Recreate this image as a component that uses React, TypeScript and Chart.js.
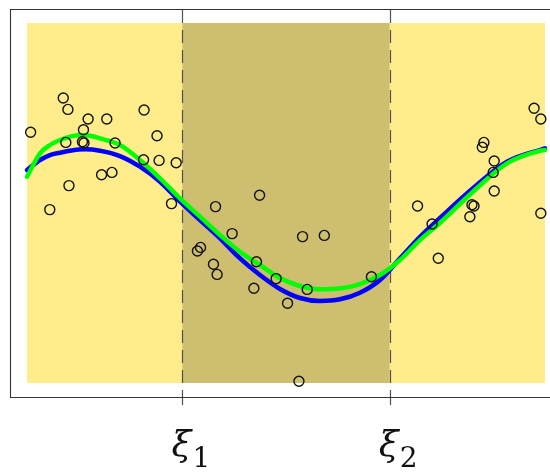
import React, { useEffect, useRef } from 'react';
import { Chart, registerables } from 'chart.js';

Chart.register(...registerables);

// Knots of the piecewise fit and their labels
const knots = [3, 7];
const knotSymbols = ['ξ', 'ξ'];
const knotSubscripts = ['1', '2'];

// Extent of the shaded data band
const xBand = [0, 10];
const yBand = [-3, 3];

// Axis limits
const xLimits = [-0.309, 10.097];
const yLimits = [-3.233, 3.217];

// Observations
const obsX = [0.07, 0.70, 0.79, 1.18, 1.54, 2.26, 1.09, 0.75, 1.07, 1.10, 1.70, 2.51, 2.25, 2.55, 2.88, 1.44, 1.64, 0.81, 0.44, 2.79, 3.29, 3.35, 3.64, 4.49, 3.96, 3.60, 3.67, 4.43, 4.81, 4.38, 5.32, 5.74, 5.41, 5.03, 6.65, 5.25, 9.79, 9.92, 8.82, 8.79, 9.02, 9.00, 9.02, 7.54, 8.59, 8.63, 8.55, 9.92, 7.82, 7.94];
const obsY = [1.18, 1.75, 1.56, 1.40, 1.40, 1.55, 1.22, 1.01, 1.02, 1.00, 1.00, 1.12, 0.72, 0.71, 0.67, 0.47, 0.51, 0.29, -0.11, -0.01, -0.80, -0.74, -0.06, 0.13, -0.51, -1.02, -1.19, -0.98, -1.26, -1.42, -0.56, -0.54, -1.44, -1.67, -1.23, -2.97, 1.58, 1.40, 1.01, 0.93, 0.70, 0.51, 0.20, -0.05, -0.03, -0.05, -0.23, -0.17, -0.35, -0.92];

// Fitted curve 1 (blue)
const blueX = [0, 0.251, 0.444, 0.637, 0.830, 1.120, 1.409, 1.795, 2.181, 2.568, 2.954, 3.340, 3.726, 4.112, 4.498, 4.884, 5.270, 5.656, 6.042, 6.429, 6.815, 7.201, 7.587, 7.973, 8.610, 9.266, 10];
const blueY = [0.55, 0.717, 0.80, 0.838, 0.872, 0.895, 0.872, 0.783, 0.605, 0.355, 0.022, -0.283, -0.588, -0.922, -1.20, -1.433, -1.583, -1.633, -1.605, -1.495, -1.283, -0.922, -0.562, -0.25, 0.245, 0.688, 0.912];

// Fitted curve 2 (green)
const greenX = [0, 0.251, 0.444, 0.637, 0.830, 1.023, 1.216, 1.409, 1.795, 2.181, 2.568, 2.954, 3.340, 3.726, 4.112, 4.498, 4.884, 5.270, 5.656, 6.042, 6.429, 6.815, 7.201, 7.587, 7.973, 8.610, 9.266, 9.903, 10];
const greenY = [0.438, 0.828, 0.967, 1.05, 1.105, 1.133, 1.122, 1.078, 0.967, 0.717, 0.412, 0.078, -0.228, -0.533, -0.812, -1.033, -1.25, -1.383, -1.438, -1.422, -1.35, -1.20, -0.95, -0.617, -0.333, 0.188, 0.662, 0.872, 0.883];

export default function App() {
  const ref = useRef<HTMLCanvasElement>(null);

  useEffect(() => {
    if (!ref.current) return;

    const decor = {
      id: 'decor',
      beforeDatasetsDraw(chart: any) {
        const { ctx, chartArea, scales } = chart;
        const x = scales.x;
        const y = scales.y;
        ctx.save();
        const bx0 = x.getPixelForValue(xBand[0]);
        const bx1 = x.getPixelForValue(xBand[1]);
        const by0 = y.getPixelForValue(yBand[1]);
        const by1 = y.getPixelForValue(yBand[0]);
        ctx.fillStyle = '#FFEC8B';
        ctx.fillRect(bx0, by0, bx1 - bx0, by1 - by0);
        const k0 = x.getPixelForValue(knots[0]);
        const k1 = x.getPixelForValue(knots[1]);
        ctx.fillStyle = '#CDBE70';
        ctx.fillRect(k0, by0, k1 - k0, by1 - by0);

        // dashed knot lines
        ctx.strokeStyle = '#505050';
        ctx.lineWidth = 1.2;
        ctx.setLineDash([13, 7]);
        knots.forEach((k) => {
          const px = Math.round(x.getPixelForValue(k)) + 0.5;
          ctx.beginPath();
          ctx.moveTo(px, chartArea.top);
          ctx.lineTo(px, chartArea.bottom);
          ctx.stroke();
        });
        ctx.setLineDash([]);
        knots.forEach((k) => {
          const px = Math.round(x.getPixelForValue(k)) + 0.5;
          ctx.beginPath();
          ctx.moveTo(px, chartArea.bottom);
          ctx.lineTo(px, chartArea.bottom + 8);
          ctx.stroke();
        });

        // frame (right side falls outside the picture)
        ctx.strokeStyle = '#333333';
        ctx.lineWidth = 1.1;
        ctx.beginPath();
        ctx.moveTo(chart.width + 5, chartArea.top - 0.5);
        ctx.lineTo(chartArea.left - 0.5, chartArea.top - 0.5);
        ctx.lineTo(chartArea.left - 0.5, chartArea.bottom + 0.5);
        ctx.lineTo(chart.width + 5, chartArea.bottom + 0.5);
        ctx.stroke();

        // knot labels
        ctx.fillStyle = '#111111';
        ctx.textBaseline = 'alphabetic';
        ctx.textAlign = 'center';
        knots.forEach((k, i) => {
          const px = x.getPixelForValue(k);
          ctx.font = 'italic 36px "DejaVu Serif", serif';
          ctx.fillText(knotSymbols[i], px - 1, chartArea.bottom + 59);
          ctx.font = '28px "DejaVu Serif", serif';
          ctx.fillText(knotSubscripts[i], px + 19, chartArea.bottom + 70);
        });
        ctx.restore();
      },
    };

    const chart = new Chart(ref.current, {
      type: 'scatter',
      data: {
        datasets: [
          {
            label: 'observations',
            data: obsX.map((v, i) => ({ x: v, y: obsY[i] })),
            pointStyle: 'circle',
            pointRadius: 5,
            pointBorderWidth: 1.4,
            borderColor: '#111111',
            backgroundColor: 'rgba(0,0,0,0)',
            order: 0,
          },
          {
            label: 'fit 2',
            type: 'line',
            data: greenX.map((v, i) => ({ x: v, y: greenY[i] })),
            borderColor: '#00FF00',
            borderWidth: 4.5,
            pointRadius: 0,
            cubicInterpolationMode: 'monotone',
            borderCapStyle: 'round',
            fill: false,
            order: 1,
          },
          {
            label: 'fit 1',
            type: 'line',
            data: blueX.map((v, i) => ({ x: v, y: blueY[i] })),
            borderColor: '#0000FF',
            borderWidth: 4.5,
            pointRadius: 0,
            cubicInterpolationMode: 'monotone',
            borderCapStyle: 'round',
            fill: false,
            order: 2,
          },
        ],
      },
      options: {
        animation: false,
        responsive: false,
        devicePixelRatio: 1,
        layout: { autoPadding: false, padding: { left: 11, top: 10, right: 0, bottom: 76 } },
        scales: {
          x: { type: 'linear', min: xLimits[0], max: xLimits[1], display: false },
          y: { type: 'linear', min: yLimits[0], max: yLimits[1], display: false },
        },
        plugins: {
          legend: { display: false },
          tooltip: { enabled: false },
        },
      },
      plugins: [decor],
    } as any);

    return () => chart.destroy();
  }, []);

  return (
    <div style={{ position: 'absolute', left: 0, top: 0, width: 550, height: 473, overflow: 'hidden', background: '#fff' }}>
      <canvas ref={ref} width={550} height={473} style={{ display: 'block' }} />
    </div>
  );
}
